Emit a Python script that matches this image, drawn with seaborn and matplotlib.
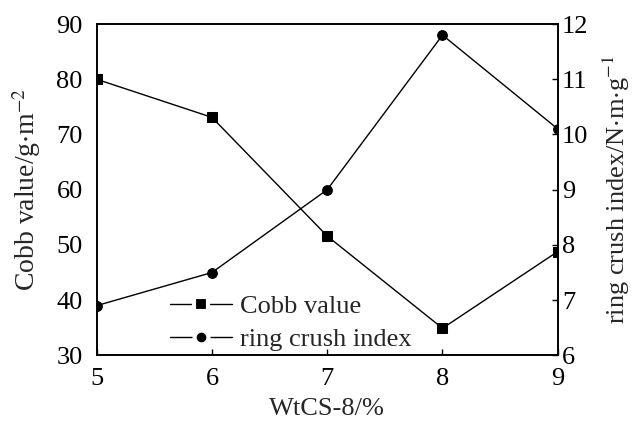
import matplotlib
matplotlib.use("Agg")
import matplotlib.pyplot as plt
import seaborn as sns
import pandas as pd
from matplotlib.lines import Line2D

# WtCS-8 dosage (%) and the measured properties
wtcs8 = [5, 6, 7, 8, 9]
cobb_value = [80.0, 73.1, 51.6, 34.9, 48.8]
ring_crush_index = [6.9, 7.5, 9.0, 11.8, 10.1]

df = pd.DataFrame({"wtcs8": wtcs8, "cobb": cobb_value, "ring": ring_crush_index})

sns.set_theme(style="white")
plt.rcParams["font.family"] = ["Liberation Serif", "DejaVu Serif"]
plt.rcParams["mathtext.fontset"] = "stix"

fig, ax = plt.subplots(figsize=(6.36, 4.22), dpi=100)
fig.subplots_adjust(left=0.152, right=0.877, top=0.943, bottom=0.158)
ax2 = ax.twinx()

ms = 7
sns.lineplot(data=df, x="wtcs8", y="cobb", ax=ax, color="black", lw=1.0,
             marker="s", markersize=ms, markeredgecolor="black", markerfacecolor="black")
sns.lineplot(data=df, x="wtcs8", y="ring", ax=ax2, color="black", lw=1.0,
             marker="o", markersize=ms, markeredgecolor="black", markerfacecolor="black")

fs = 19
ax.set_xlim(5, 9)
ax.set_ylim(30, 90)
ax2.set_ylim(6, 12)
ax.set_xticks(wtcs8)
ax.set_yticks(range(30, 91, 10))
ax2.set_yticks(range(6, 13))

for a in (ax, ax2):
    for s in a.spines.values():
        s.set_color("black")
        s.set_linewidth(1.2)
    a.tick_params(direction="in", length=4, width=1, colors="black", labelsize=fs)
ax.tick_params(axis="y", left=False, pad=10)
ax2.tick_params(axis="y", right=True, pad=3)
ax.tick_params(axis="x", bottom=True, pad=9)

ax.set_xlabel("WtCS-8/%", fontsize=fs, labelpad=6)
ax.set_ylabel(r"Cobb value/g$\cdot$m$^{-2}$", fontsize=fs + 1, labelpad=10)
ax2.set_ylabel(r"ring crush index/N$\cdot$m$\cdot$g$^{-1}$", fontsize=fs, labelpad=9)

# legend keys: short line segments with a small gap around the marker
handles = [
    Line2D([], [], color="black", lw=1.0, marker="s", markersize=ms + 3,
           markerfacecolor="black", markeredgecolor="white", markeredgewidth=3),
    Line2D([], [], color="black", lw=1.0, marker="o", markersize=ms + 3,
           markerfacecolor="black", markeredgecolor="white", markeredgewidth=3),
]
ax.legend(handles, ["Cobb value", "ring crush index"], loc="lower left",
          bbox_to_anchor=(0.124, -0.035), frameon=False, fontsize=fs,
          handlelength=2.35, handletextpad=0.3, labelspacing=0.35, borderaxespad=0.2)

fig.savefig("out.png", dpi=100)
